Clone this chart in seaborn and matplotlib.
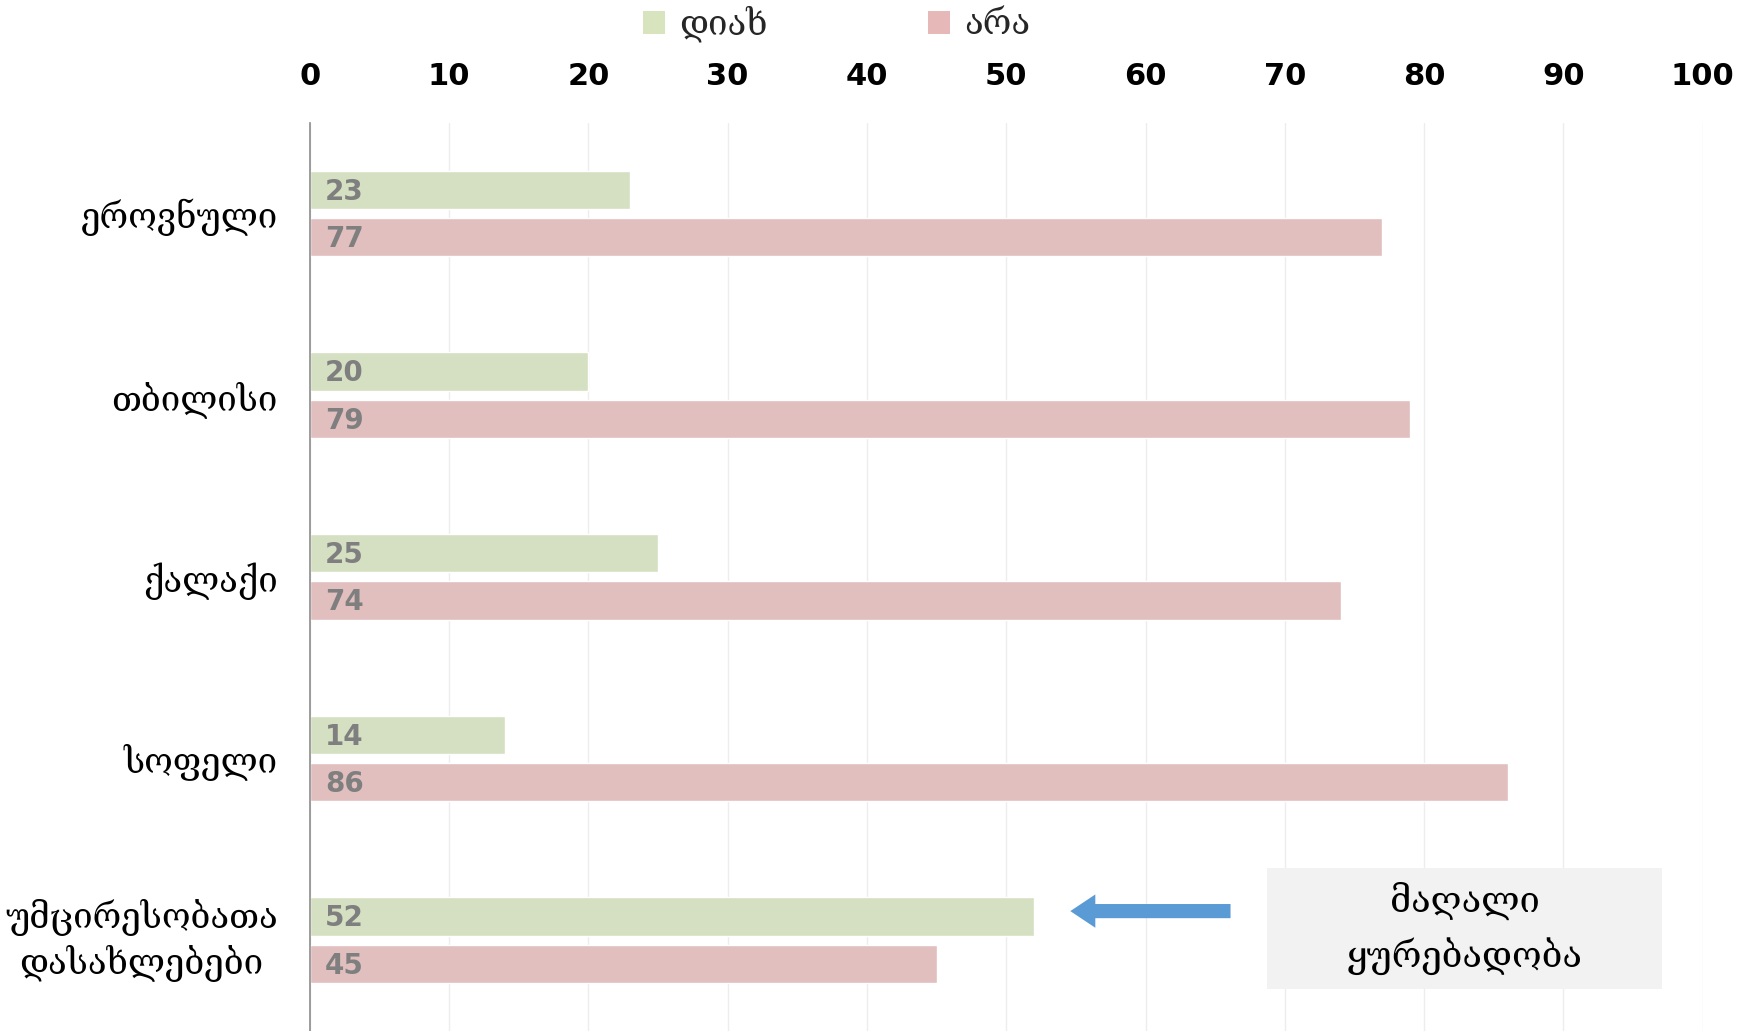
import numpy as np
import pandas as pd
import matplotlib
matplotlib.use("Agg")
import matplotlib.pyplot as plt
import seaborn as sns
from matplotlib.patches import Patch, Rectangle

# datos
categorias = ["ეროვნული", "თბილისი", "ქალაქი", "სოფელი", "უმცირესობათა\nდასახლებები"]
valores_si = [23, 20, 25, 14, 52]
valores_no = [77, 79, 74, 86, 45]
series = ["დიახ", "არა"]
ticks_x = [0, 10, 20, 30, 40, 50, 60, 70, 80, 90, 100]
nota = "მაღალი\nყურებადობა"

colores = {"დიახ": "#D7E4BD", "არა": "#E6B9B8"}

df = pd.DataFrame({
    "cat": categorias * 2,
    "serie": [series[0]] * len(categorias) + [series[1]] * len(categorias),
    "valor": valores_si + valores_no,
})

sns.set_theme(style="white")
plt.rcParams["font.family"] = ["DejaVu Serif", "DejaVu Sans"]

fig = plt.figure(figsize=(17.5, 10.31), dpi=100)
ax = fig.add_axes([0.177, 0.0, 0.796, 0.881])

sns.barplot(data=df, y="cat", x="valor", hue="serie", orient="h",
            palette=colores, width=0.52, gap=0.19, legend=False, ax=ax)

ax.set_xlim(0, 100)
ax.set_ylim(len(categorias) - 0.5, -0.5)
ax.set_xticks(ticks_x)
ax.xaxis.tick_top()
ax.set_xticklabels([str(t) for t in ticks_x], fontsize=22, fontweight="bold",
                   family="DejaVu Sans", color="black")
ax.tick_params(axis="x", length=0, pad=23)
ax.tick_params(axis="y", length=0, pad=23)
for lbl in ax.get_yticklabels():
    lbl.set_fontsize(25)
    lbl.set_color("black")
    lbl.set_multialignment("center")
    lbl.set_linespacing(1.3)
    if "\n" in lbl.get_text():
        lbl.set_verticalalignment("center")
ax.set_xlabel("")
ax.set_ylabel("")
ax.grid(axis="x", color="#EDEDED", linewidth=1)
ax.set_axisbelow(True)
for s in ["top", "right", "bottom"]:
    ax.spines[s].set_visible(False)
ax.spines["left"].set_color("#8C8C8C")
ax.spines["left"].set_linewidth(1.2)

# etiquetas de valor dentro de cada barra
for cont in ax.containers:
    for barra in cont:
        v = barra.get_width()
        yc = barra.get_y() + barra.get_height() / 2
        ax.text(1.1, yc + 0.01, f"{v:.0f}", va="center", ha="left", fontsize=20,
                fontweight="bold", color="#7F7F7F", family="DejaVu Sans")

# caja de nota y flecha
ax.add_patch(Rectangle((68.75, 3.60), 28.35, 0.67, facecolor="#F2F2F2",
                       edgecolor="none", zorder=3))
ax.text(82.9, 3.935, nota, ha="center", va="center", fontsize=26,
        linespacing=1.55, color="black", zorder=4)
ax.annotate("", xy=(54.4, 3.84), xytext=(66.3, 3.84),
            arrowprops=dict(arrowstyle="simple,head_width=2.0,head_length=1.5,tail_width=0.85",
                            color="#5B9BD5", lw=0), zorder=4)

handles = [Patch(facecolor=colores[s], edgecolor="none") for s in series]
fig.legend(handles, series, loc="center", bbox_to_anchor=(0.478, 0.977),
           ncol=2, frameon=False, fontsize=25, columnspacing=4.6,
           handlelength=0.65, handleheight=0.65, handletextpad=0.4)

fig.savefig("out.png", dpi=100)
